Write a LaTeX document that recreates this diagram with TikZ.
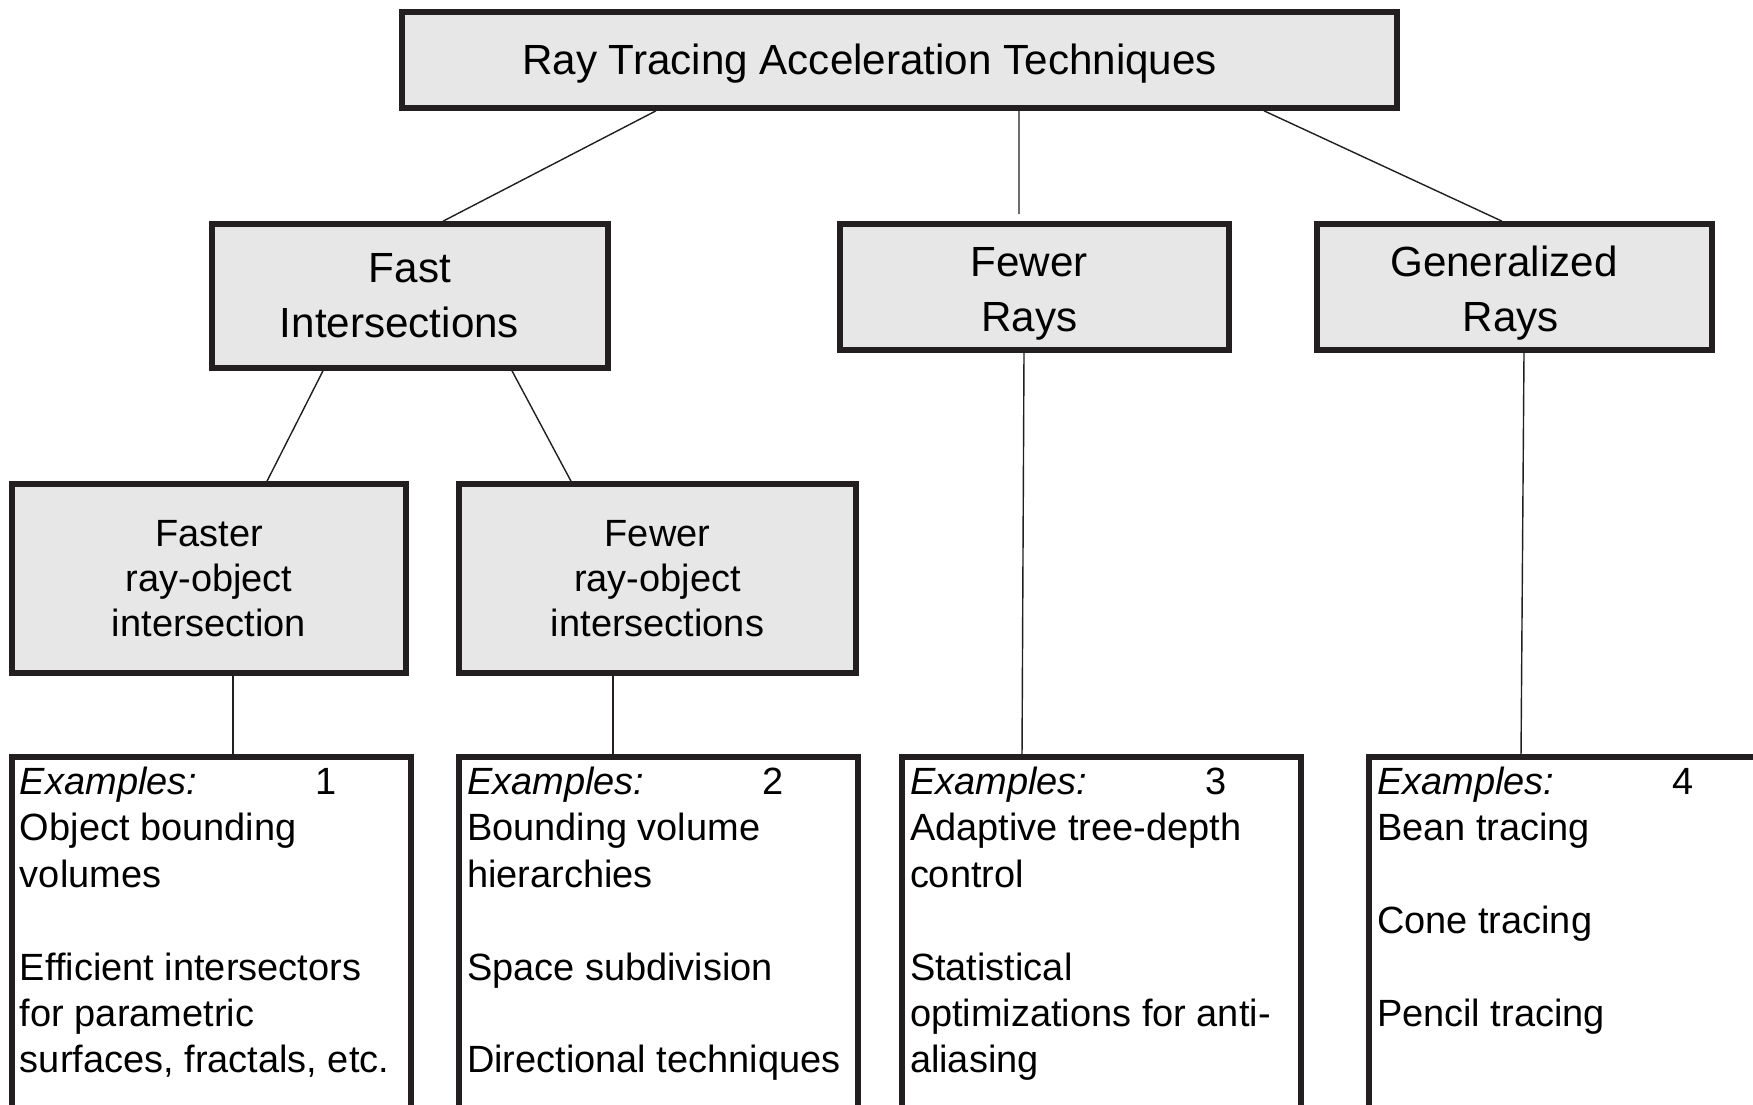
\documentclass[tikz,border=0pt]{standalone}
\usepackage{fontspec}
\setmainfont{Liberation Sans}
\usepackage{xcolor}
\usetikzlibrary{calc}

\definecolor{rtline}{RGB}{35,31,32}
\definecolor{rtgray}{RGB}{230,231,230}

\tikzset{
  headbox/.style={draw=rtline, line width=1.6pt, fill=rtgray, align=center, inner sep=0pt},
  exbox/.style={draw=rtline, line width=1.6pt, fill=white, anchor=north west, outer sep=0pt, inner xsep=0.8mm, inner ysep=1.0mm},
  link/.style={draw=rtline, line width=0.4pt}
}

\newcommand{\rtbig}{\fontsize{12pt}{15.6pt}\selectfont}
\newcommand{\rtmid}{\fontsize{10.8pt}{12.7pt}\selectfont}
\newcommand{\rtexfont}{\fontsize{10.8pt}{13.2pt}\selectfont}

\begin{document}
\begin{tikzpicture}[x=0.1mm,y=-0.1mm]
        \newcommand{\rtpicwidth}{1753}
        \newcommand{\rtpicheight}{1104}
        \newcommand{\rtexboxtop}{757}
        \newcommand{\rtextextwidth}{109pt}
        \newcommand{\rtextextheight}{112pt}
        \newcommand{\rtexhead}[1]{\makebox[84pt][l]{\itshape Examples:}#1}
        \newcommand{\rtlower}{\rule{0pt}{12pt}}
        \useasboundingbox (0,0) rectangle (\rtpicwidth,\rtpicheight);
        \clip (0,0) rectangle (\rtpicwidth,\rtpicheight);
        % top of the tree
        \node[headbox, minimum width=99.5mm, minimum height=9.6mm, font=\rtbig] (top) at (899.5,60) {\rule{0pt}{10.5pt}Ray Tracing Acceleration Techniques\hspace*{17pt}};
        % first level
        \node[headbox, minimum width=39.6mm, minimum height=14.4mm, font=\rtbig] (fast) at (410,296) {Fast\\Intersections\hspace*{6pt}};
        \node[headbox, minimum width=38.9mm, minimum height=12.6mm, font=\rtbig] (fewerrays) at (1034.5,287) {\rtlower Fewer\hspace*{3pt}\\Rays\hspace*{3pt}};
        \node[headbox, minimum width=39.5mm, minimum height=12.6mm, font=\rtbig] (genrays) at (1514.5,287) {\rtlower Generalized\hspace*{6pt}\\Rays\hspace*{2pt}};
        % second level
        \node[headbox, minimum width=39.4mm, minimum height=18.9mm, font=\rtmid] (fasterro) at (209,578.5) {Faster\\ray-object\\intersection};
        \node[headbox, minimum width=39.7mm, minimum height=18.9mm, font=\rtmid] (fewerro) at (657.5,578.5) {Fewer\\ray-object\\intersections};
        % example boxes, cut off by the page bottom
        \node[exbox] (ex1) at (12,\rtexboxtop) {\rtexfont\parbox[t][\rtextextheight][t]{\rtextextwidth}{\raggedright
          \rtexhead{1}\\Object bounding\\volumes\\[13.2pt]Efficient intersectors\\for parametric\\surfaces, fractals, etc.}};
        \node[exbox] (ex2) at (459,\rtexboxtop) {\rtexfont\parbox[t][\rtextextheight][t]{\rtextextwidth}{\raggedright
          \rtexhead{2}\\Bounding volume\\hierarchies\\[13.2pt]Space subdivision\\[13.2pt]Directional techniques}};
        \node[exbox] (ex3) at (902,\rtexboxtop) {\rtexfont\parbox[t][\rtextextheight][t]{\rtextextwidth}{\raggedright
          \rtexhead{3}\\Adaptive tree-depth\\control\\[13.2pt]Statistical\\optimizations for anti-\\aliasing}};
        \node[exbox] (ex4) at (1369,\rtexboxtop) {\rtexfont\parbox[t][\rtextextheight][t]{\rtextextwidth}{\raggedright
          \rtexhead{4}\\Bean tracing\\[13.2pt]Cone tracing\\[13.2pt]Pencil tracing}};
        % connectors
        \draw[link] ($(top.south)+(-243.5,0)$) -- ($(fast.north)+(33,0)$);
        \draw[link] ($(top.south)+(119.5,0)$) -- ($(fewerrays.north)+(-15.5,-7)$);
        \draw[link] ($(top.south)+(364.5,0)$) -- ($(genrays.north)+(-12.5,0)$);
        \draw[link] ($(fast.south)+(-87,0)$) -- ($(fasterro.north)+(58,0)$);
        \draw[link] ($(fast.south)+(102,0)$) -- ($(fewerro.north)+(-86.5,0)$);
        \draw[link] ($(fasterro.south)+(24,0)$) -- ($(ex1.north west)+(221,0)$);
        \draw[link] ($(fewerro.south)+(-44.5,0)$) -- ($(ex2.north west)+(154,0)$);
        \draw[link] ($(fewerrays.south)+(-10.5,0)$) -- ($(ex3.north west)+(120,0)$);
        \draw[link] ($(genrays.south)+(9.5,0)$) -- ($(ex4.north west)+(152,0)$);
\end{tikzpicture}
\end{document}
